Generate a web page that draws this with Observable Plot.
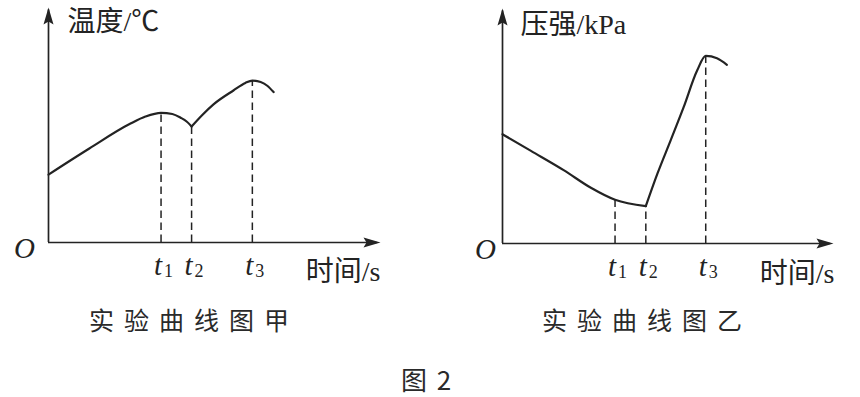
<!DOCTYPE html>
<html><head><meta charset="utf-8">
<script src="https://cdn.jsdelivr.net/npm/d3@7"></script>
<script src="https://cdn.jsdelivr.net/npm/@observablehq/plot@0.6"></script>
<style>
html,body{margin:0;padding:0;background:#fff;}
#wrap{position:relative;width:860px;height:397px;overflow:hidden;background:#fff;}
.panel{position:absolute;top:0;}
.cap{position:absolute;font-family:"Noto Sans CJK SC",sans-serif;font-size:25px;line-height:25px;letter-spacing:10px;white-space:nowrap;font-weight:400;color:#2a2a2a;}
</style></head><body><div id="wrap"></div>
<script>
// ---- Data (arbitrary units 0..100 on each axis) ----
// Panel 甲: temperature curve
const tempTime  = [0, 12.3, 24.7, 29.2, 33.9, 37.3, 39.8, 41.6, 43.1,   43.1, 46.4, 49.7, 55.7, 59.3, 61.4, 63.9, 66.0, 67.8];
const tempValue = [28.9, 40.0, 50.6, 53.6, 55.2, 54.7, 53.1, 51.5, 49.4,   49.4, 54.4, 58.8, 64.7, 67.9, 68.9, 68.3, 66.6, 64.0];
const tempSeg   = [1,1,1,1,1,1,1,1,1, 2,2,2,2,2,2,2,2,2];
const tempMarkT = [33.9, 43.1, 61.4];
const tempMarkV = [55.2, 49.4, 68.9];
// Panel 乙: pressure curve
const presTime  = [0, 8.6, 18.6, 26.7, 34.0, 43.3,   43.3, 46.8, 50.8, 54.7, 58.8, 61.4, 64.8, 67.8];
const presValue = [46.5, 39.4, 31.1, 23.7, 18.6, 15.9,   15.9, 29.7, 43.9, 57.9, 73.6, 79.8, 78.8, 76.0];
const presSeg   = [1,1,1,1,1,1, 2,2,2,2,2,2,2,2];
const presMarkT = [34.0, 43.3, 61.4];
const presMarkV = [18.6, 15.9, 79.8];
// Labels
const tSubs = ["1", "2", "3"];
const yTitles = ["温度/℃", "压强/kPa"];
const xTitle = "时间/s";
const originLabel = "O";
const captions = ["实验曲线图甲", "实验曲线图乙"];
const figTitle = "图 2";

const INK = "#232323";
const SERIF = "'Liberation Serif','Noto Sans CJK SC',serif";

const arrowHead = {
  draw(ctx) {
    ctx.moveTo(0, 0);
    ctx.lineTo(5, 17);
    ctx.lineTo(0, 14);
    ctx.lineTo(-5, 17);
    ctx.closePath();
  }
};

function panel(cfg) {
  const curve = cfg.time.map((t, i) => ({t, v: cfg.value[i], s: cfg.seg[i]}));
  const marks = cfg.markT.map((t, i) => ({t, v: cfg.markV[i], sub: tSubs[i]}));
  return Plot.plot({
    width: 430, height: 290,
    marginLeft: cfg.ml, marginRight: cfg.mr, marginTop: cfg.mt, marginBottom: cfg.mb,
    x: {domain: [0, 100], axis: null},
    y: {domain: [0, 100], axis: null},
    style: {background: "transparent", overflow: "visible"},
    marks: [
      Plot.ruleY([0], {x1: 0, x2: 99, stroke: INK, strokeWidth: 1.7}),
      Plot.ruleX([0], {y1: 0, y2: 99, stroke: INK, strokeWidth: 1.7}),
      Plot.dot([{x: 0, y: 100}], {x: "x", y: "y", symbol: arrowHead, fill: INK, stroke: "none", r: 5}),
      Plot.dot([{x: 100, y: 0}], {x: "x", y: "y", symbol: arrowHead, fill: INK, stroke: "none", r: 5, rotate: 90}),
      Plot.ruleX(marks, {x: "t", y1: 0, y2: "v", stroke: INK, strokeWidth: 1.5, strokeDasharray: "7.5,4.5"}),
      Plot.line(curve, {x: "t", y: "v", z: "s", curve: "monotone-x", stroke: INK, strokeWidth: 2.2}),
      Plot.text(marks, {x: "t", y: 0, text: () => "t", fontStyle: "italic", fontSize: 29, fontFamily: SERIF, fill: INK, dx: -3, dy: 23}),
      Plot.text(marks, {x: "t", y: 0, text: "sub", fontSize: 18, fontFamily: SERIF, fill: INK, textAnchor: "start", dx: 3, dy: 29}),
      Plot.text([originLabel], {x: 0, y: 0, text: d => d, fontStyle: "italic", fontSize: 29, fontFamily: SERIF, fill: INK, dx: cfg.odx, dy: 6}),
      Plot.text([xTitle], {frameAnchor: "bottom-right", text: d => d, fontSize: 28, fontFamily: SERIF, fill: INK, textAnchor: "end", dx: cfg.xtdx, dy: cfg.xtdy}),
      Plot.text([cfg.yTitle], {frameAnchor: "top-left", text: d => d, fontSize: 28, fontFamily: SERIF, fill: INK, textAnchor: "start", dx: cfg.ytdx, dy: cfg.ytdy})
    ]
  });
}

const wrap = document.getElementById("wrap");
const p1 = panel({time: tempTime, value: tempValue, seg: tempSeg, markT: tempMarkT, markV: tempMarkV,
  ml: 48, mr: 50, mt: 7, mb: 48, odx: -24, xtdx: 0, xtdy: 38, yTitle: yTitles[0], ytdx: 19, ytdy: 4});
const p2 = panel({time: presTime, value: presValue, seg: presSeg, markT: presMarkT, markV: presMarkV,
  ml: 72, mr: 27, mt: 8, mb: 47, odx: -17, xtdx: 1, xtdy: 39, yTitle: yTitles[1], ytdx: 18, ytdy: 6});
p1.classList.add("panel"); p1.style.left = "0px";
p2.classList.add("panel"); p2.style.left = "430px";
wrap.appendChild(p1); wrap.appendChild(p2);

function cap(text, left, top, extra) {
  const d = document.createElement("div");
  d.className = "cap";
  d.textContent = text;
  d.style.left = left + "px"; d.style.top = top + "px";
  if (extra) Object.assign(d.style, extra);
  wrap.appendChild(d);
}
cap(captions[0], 89, 307);
cap(captions[1], 542, 307);
cap(figTitle, 401, 366, {letterSpacing: "2px", fontSize: "26px", lineHeight: "26px"});
</script></body></html>
